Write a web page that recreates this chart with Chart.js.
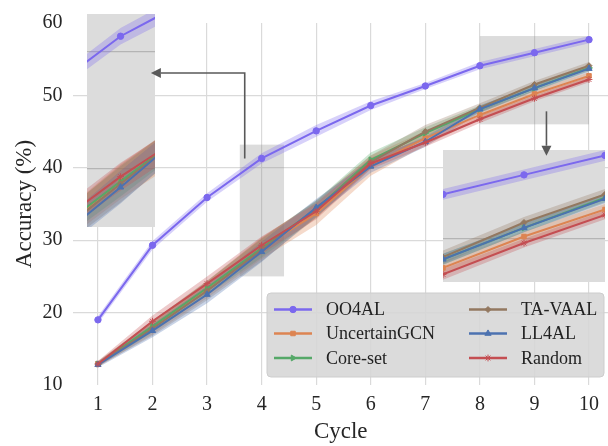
<!DOCTYPE html>
<html>
<head>
<meta charset="utf-8">
<script src="https://cdn.jsdelivr.net/npm/chart.js@4.4.1/dist/chart.umd.min.js"></script>
<style>
  html, body { margin: 0; padding: 0; background: #fff; }
  #wrap { position: relative; width: 608px; height: 446px; }
  #wrap canvas { position: absolute; }
</style>
</head>
<body>
<div id="wrap">
  <canvas id="main" width="608" height="446" style="left:0;top:0"></canvas>
  <canvas id="insetL" width="68" height="213" style="left:87px;top:14px;background:#dcdcdc"></canvas>
  <canvas id="insetR" width="162" height="132" style="left:443px;top:150px;background:#dcdcdc"></canvas>
  <canvas id="overlay" width="608" height="446" style="left:0;top:0;pointer-events:none"></canvas>
</div>
<script>
// data
const cycles = [1, 2, 3, 4, 5, 6, 7, 8, 9, 10];
const methods = ['OO4AL', 'UncertainGCN', 'Core-set', 'TA-VAAL', 'LL4AL', 'Random'];

const accOO4AL        = [19.0, 29.3, 35.9, 41.3, 45.1, 48.6, 51.3, 54.1, 55.9, 57.7];
const accUncertainGCN = [12.9, 17.9, 23.2, 28.9, 33.7, 40.3, 44.1, 47.3, 50.2, 52.7];
const accCoreset      = [12.9, 18.1, 23.4, 28.9, 34.3, 41.1, 44.8, 48.1, 51.0, 53.8];
const accTAVAAL       = [12.9, 17.8, 23.0, 28.7, 34.3, 40.8, 45.0, 48.3, 51.5, 54.1];
const accLL4AL        = [12.8, 17.5, 22.5, 28.4, 34.5, 40.2, 43.6, 48.1, 51.0, 53.7];
const accRandom       = [12.9, 18.8, 24.0, 29.3, 34.0, 40.6, 43.5, 46.7, 49.6, 52.2];

const stdOO4AL        = [0.5, 0.6, 0.6, 0.7, 0.8, 0.6, 0.4, 0.5, 0.5, 0.5];
const stdUncertainGCN = [0.4, 0.9, 1.2, 1.5, 1.6, 1.4, 1.0, 0.6, 0.5, 0.5];
const stdCoreset      = [0.3, 0.8, 1.0, 1.3, 1.2, 1.0, 0.8, 0.5, 0.4, 0.4];
const stdTAVAAL       = [0.3, 1.0, 1.3, 1.6, 1.2, 0.9, 0.9, 0.6, 0.5, 0.5];
const stdLL4AL        = [0.4, 0.9, 1.2, 1.4, 1.2, 0.9, 0.7, 0.5, 0.4, 0.4];
const stdRandom       = [0.4, 0.8, 1.0, 1.2, 1.1, 0.8, 0.6, 0.5, 0.4, 0.4];

const yTicks = [10, 20, 30, 40, 50, 60];

const means = [accOO4AL, accUncertainGCN, accCoreset, accTAVAAL, accLL4AL, accRandom];
const stds = [stdOO4AL, stdUncertainGCN, stdCoreset, stdTAVAAL, stdLL4AL, stdRandom];
const colors = ['#7b68ee', '#dd8452', '#55a868', '#937860', '#4c72b0', '#c44e52'];
const markers = ['circle', 'rect', 'triangle', 'rectRot', 'triangle', 'star'];
const rotations = [0, 0, 90, 0, 0, 0];
const radii = [3.2, 3.2, 3.4, 3, 3.6, 3.4];

// zoomed regions (data coords) and arrows
const zoomLeft = { xMin: 3.6, xMax: 4.41, yMin: 25, yMax: 43.2 };
const zoomRight = { xMin: 8, xMax: 10, yMin: 46, yMax: 58.2 };
const arrowLeft = [[3.69, 41.3], [3.69, 53.1], [1.97, 53.1]];
const arrowRight = [[9.22, 47.8], [9.22, 41.67]];

const FONT = "'Liberation Serif', 'DejaVu Serif', serif";
const TXT = '#262626';

function rgba(hex, a) {
  const n = parseInt(hex.slice(1), 16);
  return `rgba(${n >> 16},${(n >> 8) & 255},${n & 255},${a})`;
}

function makeDatasets() {
  const ds = [];
  means.forEach((m, i) => {
    const s = stds[i];
    ds.push({
      data: cycles.map((c, k) => ({ x: c, y: m[k] + s[k] })),
      borderWidth: 0, pointRadius: 0, fill: '+1',
      backgroundColor: rgba(colors[i], 0.3), order: 10 + (5 - i)
    });
    ds.push({
      data: cycles.map((c, k) => ({ x: c, y: m[k] - s[k] })),
      borderWidth: 0, pointRadius: 0, fill: false,
      backgroundColor: 'rgba(0,0,0,0)', order: 10 + (5 - i)
    });
    ds.push({
      label: methods[i], isMean: true,
      data: cycles.map((c, k) => ({ x: c, y: m[k] })),
      borderColor: colors[i], backgroundColor: colors[i],
      borderWidth: 2, pointStyle: markers[i], pointRotation: rotations[i],
      pointRadius: radii[i], pointBorderWidth: 1, pointBorderColor: colors[i],
      tension: 0, fill: false, order: 5 - i
    });
  });
  return ds;
}

// grey source rectangles
const zoomBoxes = {
  id: 'zoomBoxes',
  beforeDatasetsDraw(chart) {
    const { ctx, scales: { x, y } } = chart;
    ctx.save();
    ctx.fillStyle = 'rgba(128,128,128,0.28)';
    [zoomLeft, zoomRight].forEach(z => {
      const x0 = x.getPixelForValue(z.xMin), x1 = x.getPixelForValue(z.xMax);
      const y0 = y.getPixelForValue(z.yMax), y1 = y.getPixelForValue(z.yMin);
      ctx.fillRect(x0, y0, x1 - x0, y1 - y0);
    });
    ctx.restore();
  }
};

// legend box in lower right, two columns
const boxLegend = {
  id: 'boxLegend',
  afterDatasetsDraw(chart) {
    const ctx = chart.ctx;
    const items = chart.data.datasets.filter(d => d.isMean);
    ctx.save();
    ctx.beginPath();
    ctx.roundRect(267, 293, 337, 84, 4);
    ctx.fillStyle = 'rgba(214,214,214,0.88)';
    ctx.fill();
    ctx.strokeStyle = 'rgba(205,205,205,1)';
    ctx.lineWidth = 1;
    ctx.stroke();
    const colX = [274, 469], rowY = [309.5, 333.5, 358];
    ctx.font = '18px ' + FONT;
    ctx.textBaseline = 'middle';
    items.forEach((d, i) => {
      const cx = colX[Math.floor(i / 3)], cy = rowY[i % 3];
      ctx.strokeStyle = d.borderColor;
      ctx.lineWidth = 2.5;
      ctx.beginPath();
      ctx.moveTo(cx, cy); ctx.lineTo(cx + 38, cy);
      ctx.stroke();
      ctx.fillStyle = d.backgroundColor;
      ctx.lineWidth = 1;
      Chart.helpers.drawPoint(ctx, {
        pointStyle: d.pointStyle, rotation: d.pointRotation,
        radius: d.pointRadius, borderWidth: 1
      }, cx + 19, cy);
      ctx.fillStyle = '#222';
      ctx.fillText(d.label, cx + 52, cy + 1);
    });
    ctx.restore();
  }
};

// arrows go on an overlay so they sit above the insets
const arrows = {
  id: 'arrows',
  afterDraw(chart) {
    const { x, y } = chart.scales;
    const ctx = document.getElementById('overlay').getContext('2d');
    ctx.clearRect(0, 0, 608, 446);
    ctx.strokeStyle = '#595959';
    ctx.fillStyle = '#595959';
    ctx.lineWidth = 1.6;
    [arrowLeft, arrowRight].forEach(a => {
      const p = a.map(q => [x.getPixelForValue(q[0]), y.getPixelForValue(q[1])]);
      const n = p.length;
      const [ex, ey] = p[n - 1], [px, py] = p[n - 2];
      const ang = Math.atan2(ey - py, ex - px);
      const L = 10, W = 5;
      const bx = ex - L * Math.cos(ang), by = ey - L * Math.sin(ang);
      ctx.beginPath();
      ctx.moveTo(p[0][0], p[0][1]);
      for (let k = 1; k < n - 1; k++) ctx.lineTo(p[k][0], p[k][1]);
      ctx.lineTo(bx, by);
      ctx.stroke();
      ctx.beginPath();
      ctx.moveTo(ex, ey);
      ctx.lineTo(bx - W * Math.sin(ang), by + W * Math.cos(ang));
      ctx.lineTo(bx + W * Math.sin(ang), by - W * Math.cos(ang));
      ctx.closePath();
      ctx.fill();
    });
  }
};

new Chart(document.getElementById('main'), {
  type: 'line',
  data: { datasets: makeDatasets() },
  options: {
    responsive: false,
    animation: false,
    layout: { padding: { top: 14, left: 0, right: 0, bottom: 0 }, autoPadding: false },
    plugins: { legend: { display: false }, tooltip: { enabled: false } },
    scales: {
      x: {
        type: 'linear', min: 0.55, max: 10.348,
        afterFit(s) { s.height = 61; },
        afterBuildTicks(s) { s.ticks = cycles.map(v => ({ value: v })); },
        ticks: { font: { family: FONT, size: 20 }, color: TXT, padding: 8, autoSkip: false, maxRotation: 0 },
        grid: { color: '#dadada', lineWidth: 1.2, drawTicks: false },
        border: { display: false },
        title: { display: true, text: 'Cycle', color: TXT, font: { family: FONT, size: 23 }, padding: { top: 0, bottom: 0 } }
      },
      y: {
        min: 10, max: 60,
        afterFit(s) { s.width = 73.4; },
        afterBuildTicks(s) { s.ticks = yTicks.map(v => ({ value: v })); },
        ticks: { font: { family: FONT, size: 20 }, color: TXT, padding: 11 },
        grid: {
          color: c => (c.tick && (c.tick.value === 10 || c.tick.value === 60)) ? 'rgba(0,0,0,0)' : '#dadada',
          lineWidth: 1.2, drawTicks: false
        },
        border: { display: false },
        title: { display: true, text: 'Accuracy (%)', color: TXT, font: { family: FONT, size: 23 }, padding: { top: 11, bottom: 0 } }
      }
    }
  },
  plugins: [zoomBoxes, boxLegend, arrows]
});

function inset(id, z) {
  return new Chart(document.getElementById(id), {
    type: 'line',
    data: { datasets: makeDatasets() },
    options: {
      responsive: false,
      animation: false,
      layout: { padding: 0, autoPadding: false },
      plugins: { legend: { display: false }, tooltip: { enabled: false } },
      scales: {
        x: {
          type: 'linear', min: z.xMin, max: z.xMax,
          afterFit(s) { s.height = 0; },
          ticks: { display: false }, grid: { display: false }, border: { display: false }
        },
        y: {
          min: z.yMin, max: z.yMax,
          afterFit(s) { s.width = 0; },
          afterBuildTicks(s) { s.ticks = yTicks.filter(v => v > z.yMin && v < z.yMax).map(v => ({ value: v })); },
          ticks: { display: false },
          grid: { color: '#b4b4b4', lineWidth: 1.2, drawTicks: false },
          border: { display: false }
        }
      }
    }
  });
}
inset('insetL', zoomLeft);
inset('insetR', zoomRight);
</script>
</body>
</html>
